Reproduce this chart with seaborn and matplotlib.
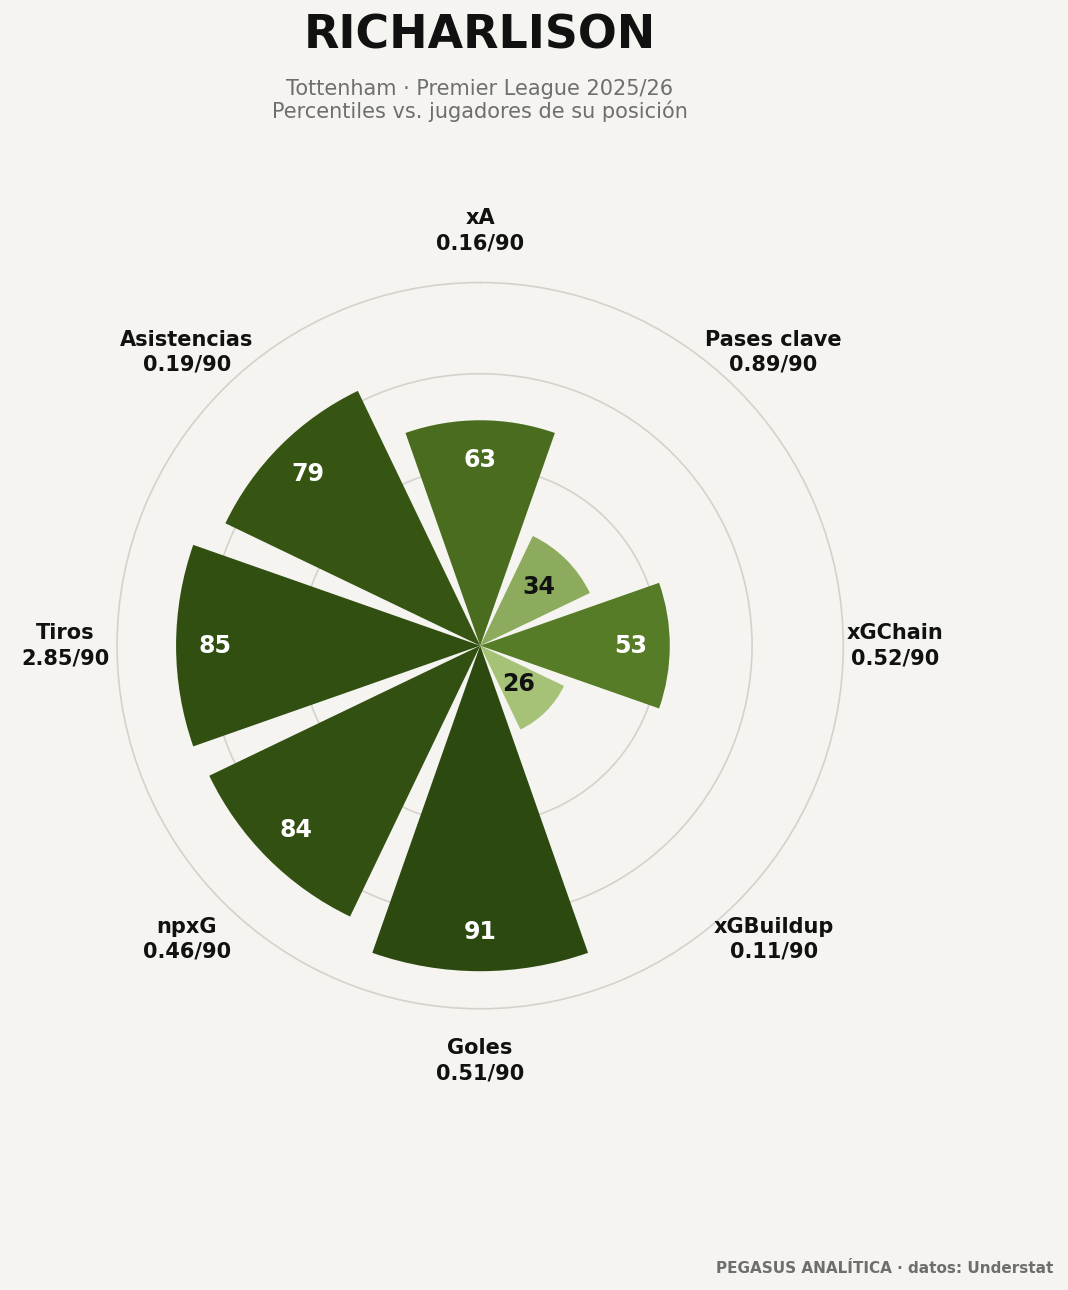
import numpy as np
import matplotlib
matplotlib.use("Agg")
import matplotlib.pyplot as plt
import seaborn as sns
from matplotlib.colors import LinearSegmentedColormap

sns.set_style("white")
plt.rcParams['font.family'] = ['DejaVu Sans']

metrics = ["xA", "Pases clave", "xGChain", "xGBuildup", "Goles", "npxG", "Tiros", "Asistencias"]
per90 = ["0.16/90", "0.89/90", "0.52/90", "0.11/90", "0.51/90", "0.46/90", "2.85/90", "0.19/90"]
percentiles = [63, 34, 53, 26, 91, 84, 85, 79]

bg = "#f5f4f0"
cmap = LinearSegmentedColormap.from_list("g", ["#d2e3b5", "#a8c47a", "#5a8029", "#3a5a15", "#243f0c"])

fig = plt.figure(figsize=(10.68, 12.9), dpi=100, facecolor=bg)
ax = fig.add_axes([0.1096, 0.218, 0.68, 0.563], projection="polar")
ax.set_facecolor(bg)
ax.set_theta_zero_location("N")
ax.set_theta_direction(-1)
n = len(metrics)
theta = np.arange(n) * 2 * np.pi / n
width = 2 * np.pi / n * 0.86
colors = [cmap(v / 100) for v in percentiles]
ax.bar(theta, percentiles, width=width, color=colors, edgecolor="none", zorder=3)
ax.set_ylim(0, 101.5)
ax.set_yticks([50, 76])
ax.set_yticklabels([])
ax.set_xticks([])
ax.grid(True, color="#d4d2cc", lw=1.2)
ax.xaxis.grid(False)
ax.spines["polar"].set_color("#d4d2cc")
ax.spines["polar"].set_linewidth(1.2)

for t, v in zip(theta, percentiles):
    ax.text(t, v - 11, str(v), ha="center", va="center", fontsize=17, fontweight="bold",
            color="white" if v >= 45 else "#111111", zorder=5)
for t, m, p in zip(theta, metrics, per90):
    ax.text(t, 116, f"{m}\n{p}", ha="center", va="center", fontsize=15, fontweight="bold",
            color="#111111", linespacing=1.3, clip_on=False)

fig.text(0.4494, 0.972, "RICHARLISON", ha="center", va="center", fontsize=33, fontweight="bold", color="#111111")
fig.text(0.4494, 0.922, "Tottenham · Premier League 2025/26\nPercentiles vs. jugadores de su posición",
         ha="center", va="center", fontsize=15, color="#6e6e6a", linespacing=1.1)
fig.text(0.986, 0.017, "PEGASUS ANALÍTICA · datos: Understat", ha="right", va="center",
         fontsize=11, fontweight="bold", color="#6e6e6a")
fig.savefig("out.png", dpi=100, facecolor=bg)
